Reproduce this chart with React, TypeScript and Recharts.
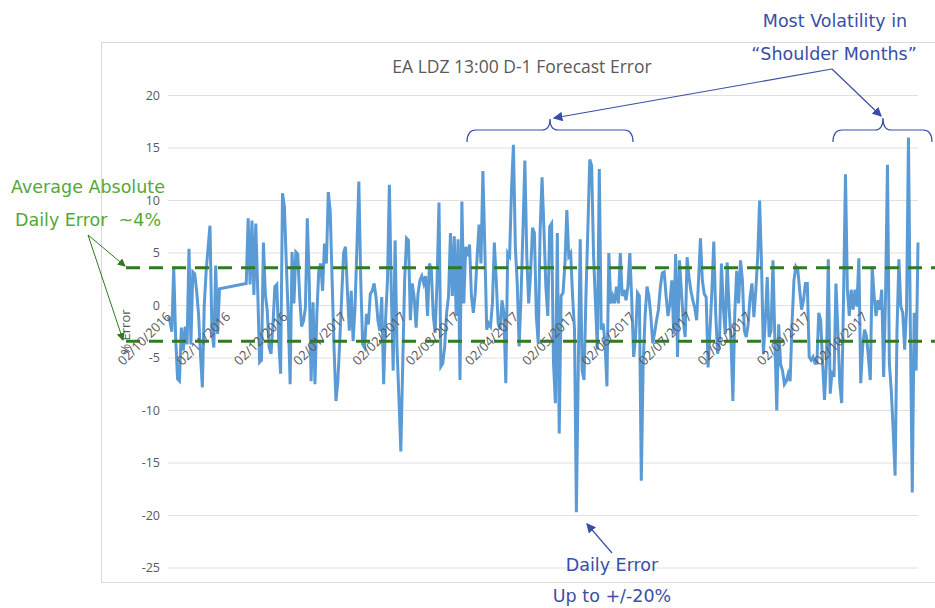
import {
  CartesianGrid,
  Line,
  LineChart,
  ReferenceLine,
  XAxis,
  YAxis,
} from "recharts";

// daily % error, one value per day from 02/10/2016; null = no data
const oct2016: (number | null)[] = [
  -1.1, -1.5, -2.5, 3.6, -3.0, -7.0, -7.2, -2.1, -4.3, -2.0, -3.7, 5.4, -3.7, 3.2,
  3.0, 1.4, -0.8, -4.6, -7.8, 0, 3.3, 5.5, 7.6, -2.4, -4.0, 3.8, -2.7, 1.6,
];
const missingNov2016: (number | null)[] = [
  null, null, null, null, null, null, null, null, null, null, null, null, null,
];
const nov2016: number[] = [
  2.1, 8.3, 2.0, 8.1, 1.0, 7.8, 1.5, -5.4, -5.2, 6.0, 1.1, -0.5, -4.0, -4.6, -1.8,
  1.8, 2.0, -3.3, -6.5, 10.7, 9.4, 4.0, -1.0,
];
const dec2016: number[] = [
  -7.5, 5.1, 0.2, 5.1, 4.9, 0.8, -2, -1.5, -0.2, 8.3, 2.4, -7.2, 0.3, -7.5, -0.8,
  3.3, 4.0, 1.4, 5.9, 4.0, 10.8, 9.0, 2.4, -4, -9.1, -7.2, -3.4, 0.8, 5.0, 5.6,
  1.4, -2.4, 1.4, -3.4, -0.2, 5.6, 11.8, 2.4, -3.7, -4, -0.8, -1.8, 1.1, 1.4, 2.1,
  0.8, -1.4, -2.4, 0.8, -7.5, -1.4, 2.4, 11.5, 1.4, -6.2, 6.2, -4, -8.8, -13.9,
  -5.6, 2.4, 6.4, 6.2, -1.4, 2.1, 0.8, -2.1, 1.1, 2.4,
];
const feb2017: number[] = [
  2.8, 2.1, 2.8, -1, 4.0, 3.4, -1, -2.6, 2.4, 9.8, -5.8, -5.5, -3.9, -0.7, 0.9,
  6.9, 0.9, 6.6, -1, 6.3, -7.1, 9.9, 0.2, 5.6, 4.7, 5.8, 0.9, -0.7, 1.2, 4.7, 7.7,
  4.0, 12.8, 5.6, -2.3, -1.7, -2.0, 0.2, 6.0, 2.4, -1.7, -2.3, 0.5, -0.7, -7.4,
  5.0, 4.7, 11.0, 15.3, 5.6, 2.1, -3.9, 0.9, 7.2, 13.8, 4.7, 0.2, 3.1, 7.4, 6.9,
  -1, -3.6, 7.2, 12.2, 7.2,
];
const apr2017: number[] = [
  1.8, -1, 7.5, 7.8, -5.5, -9.3, 6.9, -12.2, 0.9, 1.2, 4.0, 9.1, 4.7, 5.0, 0.9,
  -2.3, -19.7, -5.6, 6.3, -6.2, -7.1, 0.9, 7.2, 13.9, 13.3, 4.7, 0.2, -4.2, 13.0,
  -2.3, -1.7, -3.6, -7.7, 5.0, 0.2, 0.9, 0.2, 1.8, 0.2, 5.0, 0.9, 1.5, 0.5, 1.8,
  5.0, 0.5, -4.9, -3.0, 1.2, 0.9, -16.7, -5.5, -1, 1.8, 0.9, -1, -3.6, -2.6, -1.4,
  -0.4, 1.8, 3.1, 3.2, 0.9, -1,
];
const jun2017: number[] = [
  0.2, 2.4, -2.7, 4.9, -4.9, 4.3, 1.4, -1.4, -3.0, 4.6, 2.7, 1.4, 0.5, -0.2, -1.4,
  2.4, 6.4, 2.4, 1.1, 0.8, -5.9, -2.4, 1.4, 6.1, -0.8, -4.6, -3.3, 4.0, -0.2, -2.7,
  4.1, -0.2, -3.3, -9.1, -0.8, 3.3, 0.2, 4.3, 2.4, -2.4, -3.0, -1.8, 0.8, 2.1,
  -1.1, 1.4, 4.6, 10, 4.0, -4.6, -1.4, 2.7, -3.0, -2.4, 4.3, -3.3, -10, -1.8, -5.6,
  -6.2, -7.5, -7.2, -6.5, -7.2,
];
const aug2017: number[] = [
  -1.7, 2.4, 3.7, 3.4, 1.5, -0.4, 0.5, 2.1, 2.1, -4.9, -5.2, -4.9, -5.5, -5.5, -0.7,
  -1.4, -5.5, -9.0, -5.5, 4.4, -8.4, -6.2, -6.8, 2.1, -2.3, -7.4, -9.3, 0.9, 12.5,
  1.5, -1, 1.5, -0.4, 1.5, -0.1, 4.5, -7.4, -3.9, -2.3, -2.9, -4.9, -7.1, 3.7, 0.9,
  -1, 0.5, -0.4, 1.5, -6.8, 0.9, 13.4, -5.5, -8.1, -11.9, -16.2, -2.3, 4.4, -0.1,
  -0.7, -4.2, -0.4, 16.0, -2.3, -17.8, -0.7, -6.2, 6.0,
];

const errors = [
  ...oct2016,
  ...missingNov2016,
  ...nov2016,
  ...dec2016,
  ...feb2017,
  ...apr2017,
  ...jun2017,
  ...aug2017,
];

const START_DATE = "02/10/2016";
const monthTicks = [
  "02/10/2016", "02/11/2016", "02/12/2016", "02/01/2017", "02/02/2017",
  "02/03/2017", "02/04/2017", "02/05/2017", "02/06/2017", "02/07/2017",
  "02/08/2017", "02/09/2017", "02/10/2017",
];
const yTicks = [-25, -20, -15, -10, -5, 0, 5, 10, 15, 20];
const avgAbsError = [3.6, -3.4];

const DAY_MS = 86400000;
function parseDate(s: string) {
  const [d, m, y] = s.split("/").map(Number);
  return Date.UTC(y, m - 1, d);
}
function formatDay(day: number) {
  const dt = new Date(parseDate(START_DATE) + day * DAY_MS);
  const dd = String(dt.getUTCDate()).padStart(2, "0");
  const mm = String(dt.getUTCMonth() + 1).padStart(2, "0");
  return `${dd}/${mm}/${dt.getUTCFullYear()}`;
}
const tickDays = monthTicks.map((t) =>
  Math.round((parseDate(t) - parseDate(START_DATE)) / DAY_MS)
);
const rows = errors.map((v, i) => ({ day: i, error: v }));
const lastDay = errors.length - 1;

const W = 935;
const H = 608;
const PLOT_TOP = 95.5;
const PLOT_BOTTOM = 568;
const ZERO_Y = PLOT_TOP + (20 / 45) * (PLOT_BOTTOM - PLOT_TOP);
const GREY = "#595959";
const BLUE_NOTE = "#3a4ea6";
const GREEN_NOTE = "#53a83a";
const DARK_GREEN = "#2f7a22";

function DateTick(props: any) {
  const { x, payload } = props;
  const ax = x + 4;
  const ay = ZERO_Y + 12;
  return (
    <text
      x={ax}
      y={ay}
      transform={`rotate(-45, ${ax}, ${ay})`}
      textAnchor="end"
      fill={GREY}
      fontSize={13}
      fontFamily="Open Sans"
    >
      {formatDay(payload.value)}
    </text>
  );
}

function Notes() {
  return (
    <svg
      width={W}
      height={H}
      style={{ position: "absolute", left: 0, top: 0, pointerEvents: "none" }}
    >
      <defs>
        <marker id="blueHead" markerWidth="8" markerHeight="8" refX="7" refY="4" orient="auto">
          <path d="M0,0 L8,4 L0,8 z" fill={BLUE_NOTE} />
        </marker>
        <marker id="greenHead" markerWidth="8" markerHeight="8" refX="7" refY="4" orient="auto">
          <path d="M0,0 L8,4 L0,8 z" fill={DARK_GREEN} />
        </marker>
      </defs>
      <rect x={101.5} y={42.5} width={860} height={540} fill="none" stroke="#d9d9d9" />
      <text x={522} y={73} textAnchor="middle" fill={GREY} fontSize={17.5} fontFamily="Open Sans">
        EA LDZ 13:00 D-1 Forecast Error
      </text>
      <text
        x={130}
        y={332}
        transform="rotate(-90, 130, 332)"
        textAnchor="middle"
        fill={GREY}
        fontSize={13}
        fontFamily="Open Sans"
      >
        % Error
      </text>

      <g fontFamily="DejaVu Sans" fontSize={17.5} textAnchor="middle">
        <text x={835} y={27} fill={BLUE_NOTE}>Most Volatility in</text>
        <text x={834} y={60} fill={BLUE_NOTE}>“Shoulder Months”</text>
        <text x={612} y={571} fill={BLUE_NOTE}>Daily Error</text>
        <text x={612} y={602} fill={BLUE_NOTE}>Up to +/-20%</text>
        <text x={88} y={193} fill={GREEN_NOTE}>Average Absolute</text>
        <text x={88} y={226} fill={GREEN_NOTE} style={{ whiteSpace: "pre" }}>
          Daily Error  ~4%
        </text>
      </g>

      <g fill="none" stroke={BLUE_NOTE} strokeWidth={1.2}>
        <path d="M467,142 Q467,130 476,130 L542,130 Q550,130 550,119 Q550,130 558,130 L624,130 Q633,130 633,142" />
        <path d="M833,142 Q833,130 842,130 L875,130 Q883,130 883,118 Q883,130 891,130 L923,130 Q932,130 932,142" />
        <line x1={832} y1={69} x2={554} y2={118} markerEnd="url(#blueHead)" />
        <line x1={832} y1={69} x2={881} y2={116} markerEnd="url(#blueHead)" />
        <line x1={612} y1={553} x2={587} y2={524} markerEnd="url(#blueHead)" />
      </g>
      <g stroke={DARK_GREEN} strokeWidth={1}>
        <line x1={88} y1={235} x2={125} y2={266} markerEnd="url(#greenHead)" />
        <line x1={88} y1={235} x2={123} y2={340} markerEnd="url(#greenHead)" />
      </g>
    </svg>
  );
}

export default function App() {
  return (
    <div style={{ position: "absolute", left: 0, top: 0, width: W, height: H, background: "#fff" }}>
      <LineChart
        width={W}
        height={H}
        data={rows}
        margin={{ top: PLOT_TOP, right: W - 918, bottom: 10, left: 108 }}
      >
        <CartesianGrid vertical={false} stroke="#e0e0e0" />
        <XAxis
          dataKey="day"
          type="number"
          domain={[0, lastDay]}
          ticks={tickDays}
          interval={0}
          tick={<DateTick />}
          axisLine={false}
          tickLine={false}
          height={30}
        />
        <YAxis
          domain={[-25, 20]}
          ticks={yTicks}
          width={60}
          axisLine={false}
          tickLine={false}
          tick={{ fill: GREY, fontSize: 12.5, fontFamily: "Open Sans" }}
        />
        <Line
          type="linear"
          dataKey="error"
          stroke="#5b9bd5"
          strokeWidth={3}
          dot={false}
          connectNulls
          isAnimationActive={false}
        />
        {avgAbsError.map((v) => (
          <ReferenceLine
            key={v}
            segment={[
              { x: -22, y: v },
              { x: lastDay + 9, y: v },
            ]}
            ifOverflow="visible"
            stroke={DARK_GREEN}
            strokeWidth={3}
            strokeDasharray="14 9"
          />
        ))}
      </LineChart>
      <Notes />
    </div>
  );
}
